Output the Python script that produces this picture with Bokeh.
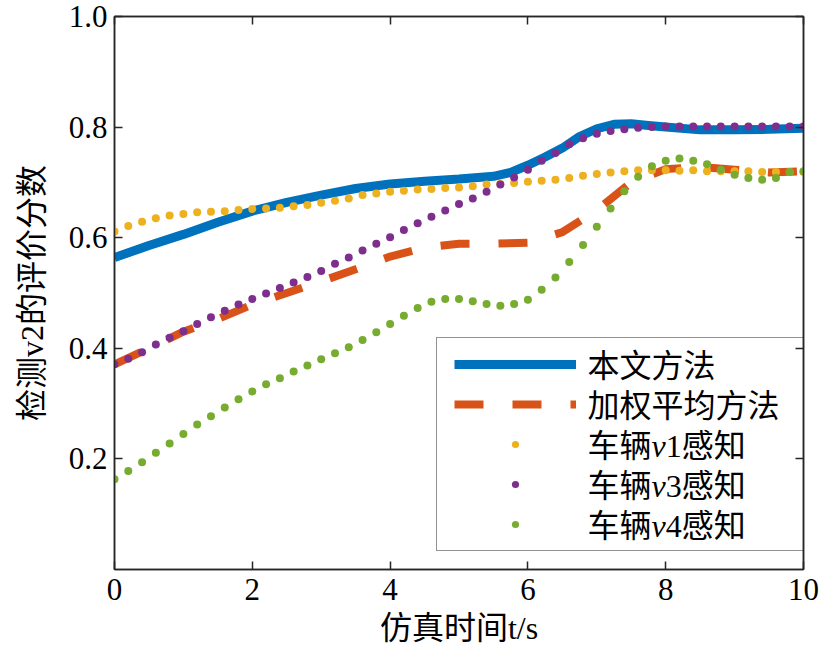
from bokeh.plotting import figure
from bokeh.models import Range1d, FixedTicker, LinearAxis, Legend, LegendItem
from bokeh.core.properties import value
from bokeh.embed import file_html
from bokeh.resources import INLINE

# ---------------- data ----------------
t_dots = [0.0, 0.2, 0.4, 0.6, 0.8, 1.0, 1.2, 1.4, 1.6, 1.8,
          2.0, 2.2, 2.4, 2.6, 2.8, 3.0, 3.2, 3.4, 3.6, 3.8,
          4.0, 4.2, 4.4, 4.6, 4.8, 5.0, 5.2, 5.4, 5.6, 5.8,
          6.0, 6.2, 6.4, 6.6, 6.8, 7.0, 7.2, 7.4, 7.6, 7.8,
          8.0, 8.2, 8.4, 8.6, 8.8, 9.0, 9.2, 9.4, 9.6, 9.8, 10.0]

v1 = [0.611, 0.621, 0.629, 0.635, 0.640, 0.643, 0.646, 0.647, 0.648, 0.650,
      0.652, 0.653, 0.654, 0.657, 0.659, 0.663, 0.667, 0.671, 0.677, 0.680,
      0.683, 0.685, 0.687, 0.688, 0.690, 0.691, 0.693, 0.696, 0.697, 0.699,
      0.701, 0.703, 0.705, 0.708, 0.712, 0.715, 0.718, 0.720, 0.722, 0.722,
      0.722, 0.721, 0.722, 0.720, 0.720, 0.720, 0.720, 0.719, 0.719, 0.719, 0.719]

v3 = [0.371, 0.381, 0.393, 0.407, 0.419, 0.431, 0.444, 0.456, 0.468, 0.479,
      0.489, 0.499, 0.509, 0.519, 0.529, 0.540, 0.553, 0.564, 0.577, 0.589,
      0.601, 0.614, 0.626, 0.638, 0.649, 0.661, 0.671, 0.683, 0.696, 0.709,
      0.723, 0.739, 0.753, 0.769, 0.780, 0.788, 0.793, 0.796, 0.799, 0.800,
      0.801, 0.801, 0.801, 0.801, 0.801, 0.801, 0.801, 0.801, 0.801, 0.801, 0.801]

v4 = [0.163, 0.178, 0.194, 0.211, 0.228, 0.245, 0.262, 0.277, 0.293, 0.308,
      0.322, 0.335, 0.346, 0.358, 0.369, 0.380, 0.391, 0.402, 0.415, 0.429,
      0.444, 0.459, 0.473, 0.484, 0.489, 0.489, 0.485, 0.480, 0.477, 0.480,
      0.488, 0.506, 0.528, 0.556, 0.587, 0.620, 0.653, 0.684, 0.710, 0.729,
      0.739, 0.743, 0.739, 0.733, 0.723, 0.714, 0.708, 0.705, 0.708, 0.719, 0.720]

t_ours = [0.0, 0.5, 1.0, 1.5, 2.0, 2.5, 3.0, 3.5, 4.0, 4.5, 5.0, 5.5, 5.75,
          6.0, 6.25, 6.5, 6.75, 7.0, 7.25, 7.5, 7.75, 8.0, 8.5, 9.0, 9.5, 10.0]
ours = [0.564, 0.586, 0.606, 0.628, 0.648, 0.664, 0.677, 0.689, 0.697, 0.702,
        0.706, 0.711, 0.718, 0.731, 0.746, 0.762, 0.783, 0.797, 0.805, 0.806,
        0.803, 0.800, 0.795, 0.795, 0.796, 0.798]

t_wavg = [0.0, 0.5, 1.0, 1.5, 2.0, 2.5, 3.0, 3.5, 4.0, 4.5, 5.0, 5.5, 6.0,
          6.5, 7.0, 7.5, 8.0, 8.5, 9.0, 9.5, 10.0]
wavg = [0.371, 0.400, 0.430, 0.453, 0.479, 0.500, 0.521, 0.543, 0.566, 0.582,
        0.589, 0.589, 0.591, 0.610, 0.650, 0.700, 0.724, 0.728, 0.723, 0.718, 0.720]

x_ticks = [0, 2, 4, 6, 8, 10]
y_ticks = [0.2, 0.4, 0.6, 0.8, 1.0]

# legend labels as (text, italic) runs
label_runs = [[("本文方法", False)],
              [("加权平均方法", False)],
              [("车辆", False), ("v", True), ("1感知", False)],
              [("车辆", False), ("v", True), ("3感知", False)],
              [("车辆", False), ("v", True), ("4感知", False)]]
x_label = "仿真时间t/s"
y_label = "检测v2的评价分数"

# ---------------- style ----------------
FONT = "Liberation Serif, Noto Sans CJK SC"
C_BLUE = "#0072BD"
C_RED = "#D95319"
C_YEL = "#EDB120"
C_PUR = "#7E2F8E"
C_GRN = "#77AC30"
INK = "#262626"

LATIN_EM = {"0": 0.5, "1": 0.5, "2": 0.5, "3": 0.5, "4": 0.5, "v": 0.444}


def run_width(text, size):
    return sum(LATIN_EM.get(ch, 1.0) for ch in text) * size


FW, FH = 689, 553
p = figure(frame_width=FW, frame_height=FH,
           x_range=Range1d(0, 10), y_range=Range1d(0, 1),
           output_backend="svg", toolbar_location=None,
           min_border_left=114, min_border_right=16,
           min_border_top=16, min_border_bottom=78)
p.background_fill_color = "white"
p.border_fill_color = "white"
p.grid.visible = False
p.outline_line_color = INK
p.outline_line_width = 1.5

XS = 10 / FW   # data units per pixel (x)
YS = 1 / FH    # data units per pixel (y)


def add_runs_glyph(plot, px, py, runs, size):
    """rich text inside the frame, positions in frame pixels (from bottom-left)"""
    for text, italic in runs:
        plot.text(x=[px * XS], y=[py * YS], text=[text],
                  text_font=value(FONT), text_font_size=f"{size}px",
                  text_font_style="italic" if italic else "normal",
                  text_color="black", text_baseline="middle",
                  text_align="left")
        px += run_width(text, size)


for ax in (p.xaxis[0], p.yaxis[0]):
    ax.axis_line_color = INK
    ax.axis_line_width = 1.5
    ax.major_tick_line_color = INK
    ax.major_tick_line_width = 1.5
    ax.major_tick_in = 8
    ax.major_tick_out = 0
    ax.minor_tick_line_color = None
    ax.major_label_text_font = FONT
    ax.major_label_text_font_size = "31px"
    ax.major_label_text_color = "black"
    ax.axis_label_text_font = FONT
    ax.axis_label_text_font_size = "32px"
    ax.axis_label_text_font_style = "normal"
    ax.axis_label_text_color = "black"

p.xaxis[0].ticker = FixedTicker(ticks=x_ticks)
p.yaxis[0].ticker = FixedTicker(ticks=y_ticks)
p.xaxis[0].axis_label = x_label
p.yaxis[0].axis_label = y_label
p.xaxis[0].major_label_standoff = 9
p.xaxis[0].axis_label_standoff = 7
p.yaxis[0].major_label_standoff = 7
p.yaxis[0].axis_label_standoff = 16
p.yaxis[0].major_label_overrides = {0.2: "0.2", 0.4: "0.4", 0.6: "0.6", 0.8: "0.8", 1.0: "1.0"}

top = LinearAxis(ticker=FixedTicker(ticks=x_ticks))
right = LinearAxis(ticker=FixedTicker(ticks=y_ticks))
for ax in (top, right):
    ax.axis_line_color = INK
    ax.axis_line_width = 1.5
    ax.major_tick_line_color = INK
    ax.major_tick_line_width = 1.5
    ax.major_tick_in = 8
    ax.major_tick_out = 0
    ax.minor_tick_line_color = None
    ax.major_label_text_font_size = "0px"
    ax.major_label_text_color = None
    ax.major_label_standoff = 0
p.add_layout(top, "above")
p.add_layout(right, "right")

r_ours = p.line(t_ours, ours, line_color=C_BLUE, line_width=9)
r_wavg = p.line(t_wavg, wavg, line_color=C_RED, line_width=8, line_dash="29 29")
r_v1 = p.scatter(t_dots, v1, size=8, fill_color=C_YEL, line_color=None)
r_v3 = p.scatter(t_dots, v3, size=8, fill_color=C_PUR, line_color=None)
r_v4 = p.scatter(t_dots, v4, size=8, fill_color=C_GRN, line_color=None)

# legend box with glyph samples; its texts are drawn as rich text glyphs
LOC_X, LOC_Y = 322, 18
PAD, GH, SP, GW, STAND = 17, 18, 22, 122, 10
LEG_RIGHT = FW - 1
legend = Legend(items=[LegendItem(label=" ", renderers=[r])
                       for r in [r_ours, r_wavg, r_v1, r_v3, r_v4]],
                location=(LOC_X, LOC_Y))
legend.label_text_font_size = "10px"
legend.label_text_color = "black"
legend.glyph_width = GW
legend.glyph_height = GH
legend.label_height = GH
legend.label_width = LEG_RIGHT - LOC_X - 2 * PAD - GW - STAND
legend.label_standoff = STAND
legend.spacing = SP
legend.padding = PAD
legend.margin = 0
legend.border_line_color = INK
legend.border_line_width = 1.5
legend.background_fill_color = None
legend.background_fill_alpha = 0.0
p.add_layout(legend, "center")

n = len(label_runs)
for i, runs in enumerate(label_runs):
    yc = LOC_Y + PAD + (GH + SP) * (n - 1 - i) + GH / 2
    add_runs_glyph(p, 473, yc, runs, 32)

open("out.html", "w").write(file_html(p, INLINE))
